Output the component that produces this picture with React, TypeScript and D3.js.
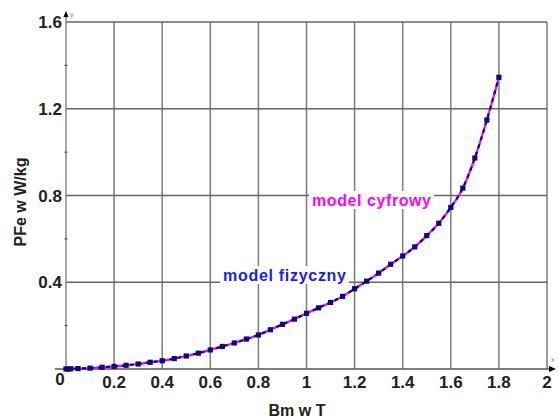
import React, { useEffect } from "react";
import * as d3 from "d3";

const bmValues = [0, 0.01, 0.02, 0.05, 0.1, 0.15, 0.2, 0.25, 0.3, 0.35, 0.4, 0.45, 0.5, 0.55, 0.6, 0.65, 0.7, 0.75, 0.8, 0.85, 0.9, 0.95, 1.0, 1.05, 1.1, 1.15, 1.2, 1.25, 1.3, 1.35, 1.4, 1.45, 1.5, 1.55, 1.6, 1.65, 1.7, 1.75, 1.8];
const pfeFizyczny = [0, 0, 0.001, 0.002, 0.004, 0.008, 0.012, 0.017, 0.023, 0.031, 0.038, 0.048, 0.06, 0.073, 0.088, 0.104, 0.12, 0.138, 0.157, 0.181, 0.206, 0.23, 0.257, 0.282, 0.307, 0.335, 0.37, 0.405, 0.442, 0.483, 0.521, 0.563, 0.615, 0.672, 0.745, 0.834, 0.973, 1.148, 1.345];
const pfeCyfrowy = [0, 0, 0.001, 0.002, 0.004, 0.008, 0.012, 0.017, 0.023, 0.031, 0.038, 0.048, 0.06, 0.073, 0.088, 0.104, 0.12, 0.138, 0.157, 0.181, 0.206, 0.23, 0.257, 0.282, 0.307, 0.335, 0.37, 0.405, 0.442, 0.483, 0.521, 0.563, 0.615, 0.672, 0.745, 0.834, 0.973, 1.148, 1.345];
const xTicks = [0, 0.2, 0.4, 0.6, 0.8, 1, 1.2, 1.4, 1.6, 1.8, 2];
const yTicks = [0, 0.4, 0.8, 1.2, 1.6];
const yMinorTicks = [0.2, 0.6, 1.0, 1.4];
const xTickLabels = ["0", "0.2", "0.4", "0.6", "0.8", "1", "1.2", "1.4", "1.6", "1.8", "2"];
const yTickLabels = ["", "0.4", "0.8", "1.2", "1.6"];

const W = 558;
const H = 418;
const FONT = "'Liberation Sans', Arial, sans-serif";

export default function App() {
  useEffect(() => {
    document.body.style.margin = "0";
  }, []);
  const x = d3.scaleLinear().domain([0, 2]).range([66, 547]);
  const y = d3.scaleLinear().domain([0, 1.6]).range([369, 22]);
  const line = d3
    .line<number>()
    .x((_, i) => x(bmValues[i]))
    .y((d) => y(d))
    .curve(d3.curveMonotoneX);
  const gridColor = "#7c7c7c";
  return (
    <svg width={W} height={H} style={{ position: "absolute", left: 0, top: 0, background: "#fff" }}>
      {xTicks.slice(1).map((t) => (
        <line key={"vx" + t} x1={x(t)} x2={x(t)} y1={y(1.6)} y2={y(0)} stroke={gridColor} strokeWidth={1.5} />
      ))}
      {yTicks.slice(1).map((t) => (
        <line key={"hy" + t} x1={x(0)} x2={x(2)} y1={y(t)} y2={y(t)} stroke="#666" strokeWidth={1.5} />
      ))}
      <line x1={x(0)} x2={x(0)} y1={y(0)} y2={14} stroke="#888" strokeWidth={1.5} />
      <line x1={55} x2={552} y1={y(0)} y2={y(0)} stroke="#555" strokeWidth={1.5} />
      <path d={`M${x(0) - 2.5},${17} L${x(0)},${11} L${x(0) + 2.5},${17} Z`} fill="#000" />
      <path d={`M${549},${y(0) - 3} L${556},${y(0)} L${549},${y(0) + 3} Z`} fill="#000" />
      <text x={x(0) + 4} y={17} fontFamily={FONT} fontSize={7} fill="#888">y</text>
      <text x={551} y={362} fontFamily={FONT} fontSize={7} fill="#888">x</text>
      {yMinorTicks.map((t) => (
        <line key={"m" + t} x1={x(0) - 1.5} x2={x(0) + 1.5} y1={y(t)} y2={y(t)} stroke="#444" strokeWidth={1} />
      ))}
      {xTicks.map((t, i) => (
        <text
          key={"xl" + t}
          x={i === 0 ? 60 : x(t)}
          y={i === 0 ? 385 : 388}
          textAnchor="middle"
          fontFamily={FONT}
          fontSize={17}
          fontWeight="bold"
          fill="#222"
        >
          {xTickLabels[i]}
        </text>
      ))}
      {yTicks.map((t, i) => (
        <text
          key={"yl" + t}
          x={62}
          y={y(t) + 6}
          textAnchor="end"
          fontFamily={FONT}
          fontSize={17}
          fontWeight="bold"
          fill="#222"
        >
          {yTickLabels[i]}
        </text>
      ))}
      <text x={297} y={416} textAnchor="middle" fontFamily={FONT} fontSize={16} fontWeight="bold" fill="#222">
        Bm w T
      </text>
      <text
        transform={`translate(26,202) rotate(-90)`}
        textAnchor="middle"
        fontFamily={FONT}
        fontSize={16}
        fontWeight="bold"
        fill="#222"
      >
        PFe w W/kg
      </text>
      <path d={line(pfeCyfrowy) || ""} fill="none" stroke="#ff00ff" strokeWidth={2.2} />
      <path d={line(pfeFizyczny) || ""} fill="none" stroke="#0a0a84" strokeWidth={2.2} strokeDasharray="4,4" />
      {pfeFizyczny.map((v, i) => (
        <rect key={"p" + i} x={x(bmValues[i]) - 2.6} y={y(v) - 2.6} width={5.2} height={5.2} fill="#0a0a84" />
      ))}
      <rect x={309} y={191} width={125} height={18} fill="#fff" />
      <text x={312} y={206} fontFamily={FONT} fontSize={16} fontWeight="bold" fill="#ff00ff" textLength={119} lengthAdjust="spacing">
        model cyfrowy
      </text>
      <rect x={220} y={266} width={129} height={18} fill="#fff" />
      <text x={223} y={281} fontFamily={FONT} fontSize={16} fontWeight="bold" fill="#1a1aff" textLength={123} lengthAdjust="spacing">
        model fizyczny
      </text>
    </svg>
  );
}
